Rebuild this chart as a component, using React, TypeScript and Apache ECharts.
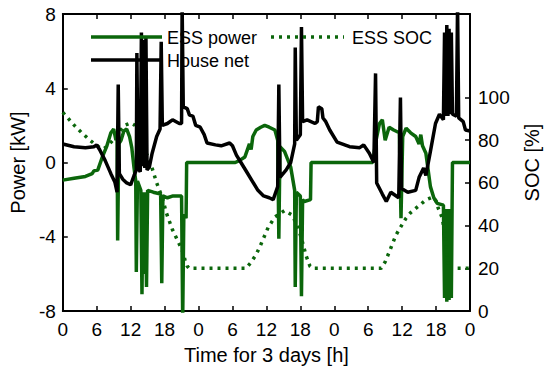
import React, { useEffect, useRef } from 'react';
import * as echarts from 'echarts';

// Time axis (hours over 3 days) and tick labels
const hourTicks = [0, 6, 12, 18, 24, 30, 36, 42, 48, 54, 60, 66, 72];
const powerTicks = [-8, -4, 0, 4, 8];
const socTicks = [0, 20, 40, 60, 80, 100];
const legendNames = ['ESS power', 'House net', 'ESS SOC'];

// ESS power [kW] : [hour, kW]
const essPower: [number, number][] = [
  [0, -0.95], [2, -0.85], [4, -0.75], [5.2, -0.6], [5.5, -0.45], [6.2, -0.4], [7.0, 0.3], [7.8, 0.9],
  [8.5, 1.6], [9.0, 1.8], [9.4, 1.2], [9.6, 1.5], [9.7, -4.2], [9.9, 1.0], [10.3, 1.2], [10.8, 1.7],
  [11.3, 1.8], [11.8, 1.4], [12.2, 0.8], [12.6, -0.3], [12.9, -1.0], [13.0, -5.9], [13.2, -1.0],
  [13.8, -1.5], [14.0, -7.1], [14.2, -1.6], [14.4, -6.0], [14.6, -1.6], [14.8, -6.7], [15.0, -1.5],
  [16.0, -1.6], [17.3, -1.7], [17.5, -6.5], [17.7, -1.8], [18.5, -1.9], [19.5, -1.8], [21.0, -1.8],
  [21.2, -8.5], [21.4, -2.8], [21.8, -3.0], [21.9, 0], [30.5, 0], [31.2, 0.1], [32.2, 0.3], [33.0, 1.0],
  [33.3, 0.7], [33.6, 1.4], [34.2, 1.75], [35.0, 1.9], [35.7, 2.0], [36.5, 1.9], [37.5, 1.75],
  [38.0, 1.2], [38.2, -4.1], [38.4, 0.85], [39.2, 0.6], [40.3, -0.25], [41.0, -1.5], [41.1, -6.7],
  [41.3, -1.6], [42.0, -1.8], [42.2, -7.2], [42.4, -2.0], [42.7, -2.1], [43.8, -2.0], [43.9, 0],
  [54.8, 0], [55.3, 1.05], [56.0, 2.1], [56.5, 2.3], [57.0, 1.2], [57.7, 1.9], [58.5, 1.75],
  [59.5, 1.6], [59.8, -3.0], [60.1, 1.4], [60.7, 1.85], [61.5, 1.6], [62.4, 1.4], [63.0, 1.0],
  [63.3, 1.5], [63.6, 0.9], [64.2, 0.5], [65.0, -1.3], [65.6, -1.9], [66.2, -2.2], [67.3, -2.3],
  [67.5, -7.3], [67.7, -2.5], [67.9, -7.5], [68.1, -2.5], [68.3, -7.4], [68.5, -2.5], [68.7, -7.3],
  [68.9, 0], [72, 0],
];

// House net [kW] : [hour, kW]
const houseNet: [number, number][] = [
  [0, 1.0], [2, 0.85], [4, 0.8], [5.5, 0.85], [6, 0.95], [6.5, 0.7], [7.5, 0.1], [8.5, -0.6],
  [9.2, -1.05], [9.6, -1.6], [9.8, 4.2], [10.0, -0.6], [10.6, -0.9], [11.3, -1.1], [12.0, -1.2],
  [12.6, -0.7], [13.0, -0.4], [13.1, 5.9], [13.3, -0.3], [13.7, -0.5], [13.9, 7.0], [14.1, -0.2],
  [14.3, 6.6], [14.5, -0.3], [14.7, 6.8], [14.9, -0.4], [15.3, -0.25], [15.8, 0.5], [16.6, 1.4],
  [17.2, 1.8], [17.4, 6.5], [17.6, 2.0], [18.5, 2.1], [19.4, 2.3], [20.6, 2.1], [21.0, 2.1],
  [21.1, 8.5], [21.3, 3.0], [22.0, 2.9], [22.4, 2.55], [23.0, 2.5], [23.5, 2.0], [24.3, 1.9],
  [25.0, 1.5], [25.5, 1.05], [27.0, 0.95], [28.0, 0.9], [29.5, 1.05], [30.0, 0.9], [30.7, 0.4],
  [31.5, 0.0], [32.5, -0.5], [33.5, -1.0], [34.5, -1.5], [35.5, -1.8], [36.5, -1.9], [37.2, -2.0],
  [38.0, -1.3], [38.2, 4.2], [38.4, -0.8], [39.5, -0.4], [40.3, 0.0], [41.0, 1.0], [41.1, 6.2],
  [41.3, 1.2], [42.0, 1.5], [42.2, 7.3], [42.4, 2.2], [43.2, 2.3], [44.6, 2.1], [45.0, 2.2],
  [45.2, 3.0], [45.8, 2.9], [46.0, 2.4], [46.5, 2.2], [47.2, 1.75], [48.5, 1.1], [50.7, 0.85],
  [52.5, 0.8], [53.2, 0.95], [54.2, 0.5], [55.0, 0.0], [55.3, 4.8], [55.5, -1.1], [56.5, -1.7],
  [57.2, -2.1], [58.0, -1.6], [59.4, -1.9], [59.7, 3.5], [59.9, -1.4], [61.0, -1.6], [62.4, -1.5],
  [63.0, -0.8], [63.8, -0.3], [64.2, -0.7], [65.0, 0.6], [65.9, 2.1], [66.6, 2.6], [67.3, 2.3],
  [67.5, 7.0], [67.7, 2.5], [67.9, 7.4], [68.1, 2.5], [68.3, 7.2], [68.5, 2.6], [68.7, 7.0],
  [68.9, 2.6], [69.6, 2.5], [69.8, 8.5], [70.0, 2.4], [70.8, 2.2], [71.2, 1.75], [72, 1.7],
];

// ESS SOC [%] : [hour, %]
const essSoc: [number, number][] = [
  [0, 93], [1, 90], [2, 87], [3.5, 83], [5, 79.5], [5.7, 78], [6.5, 76.5], [7.3, 76], [8.2, 78],
  [9.2, 81], [10.2, 84.5], [11, 87], [12, 88], [12.7, 87], [13.5, 82], [14.5, 75], [15.3, 71],
  [16.6, 60], [17.6, 53], [18.3, 46], [19.4, 38], [20.3, 33], [21.1, 28.5], [21.6, 24], [22, 21],
  [22.3, 20], [32.4, 20], [33.2, 22.5], [34.2, 26.5], [35.0, 31], [36.3, 39], [37.5, 44],
  [39.2, 47], [40.5, 45], [41.5, 40], [42.3, 33], [43.0, 26], [43.7, 21], [44.1, 20], [56.3, 20],
  [57.0, 23], [57.7, 27.5], [58.9, 35.5], [60, 40.5], [60.7, 43.5], [61.5, 46], [62.4, 48],
  [63.3, 50], [64.2, 52], [65.4, 53.3], [66, 51.5], [66.4, 48], [67.1, 43.5], [67.6, 35],
  [67.9, 26], [68.2, 20], [72, 20],
];

const GREEN = '#0b660b';
const FONT = "'Liberation Sans', Arial, Helvetica, sans-serif";
const DOT: number[] = [3, 5];

export default function App() {
  const ref = useRef<HTMLDivElement>(null);
  useEffect(() => {
    if (!ref.current) return;
    const chart = echarts.init(ref.current, undefined, { renderer: 'svg' });
    const axisLine = { show: true, onZero: false, lineStyle: { color: '#000', width: 2 } };
    const tickStyle = { color: '#000', width: 1.5 };
    const legendText = (x: number, y: number, t: string) => ({
      type: 'text',
      x,
      y,
      style: { text: t, fontSize: 18, fontFamily: FONT, fill: '#000', verticalAlign: 'middle', align: 'left' },
      z: 100,
    });
    const legendLine = (x1: number, x2: number, y: number, color: string, dash?: number[]) => ({
      type: 'line',
      shape: { x1, y1: y, x2, y2: y },
      style: { stroke: color, lineWidth: 3.5, lineDash: dash || null },
      z: 100,
    });
    chart.setOption({
      animation: false,
      backgroundColor: '#fff',
      textStyle: { fontFamily: FONT },
      grid: { left: 57, right: 80, top: 14, bottom: 64, containLabel: false },
      graphic: [
        legendLine(91, 162, 37, GREEN),
        legendText(167, 38, legendNames[0]),
        legendLine(91, 162, 60, '#000'),
        legendText(167, 61, legendNames[1]),
        legendLine(271, 344, 37, GREEN, DOT),
        legendText(352, 38, legendNames[2]),
      ],
      xAxis: [
        {
          type: 'value',
          min: 0,
          max: 72,
          interval: 6,
          position: 'bottom',
          name: 'Time for 3 days [h]',
          nameLocation: 'middle',
          nameGap: 34,
          nameTextStyle: { fontSize: 20, color: '#000', fontFamily: FONT },
          axisLine,
          axisTick: { inside: true, length: 5, lineStyle: tickStyle, customValues: hourTicks },
          axisLabel: {
            color: '#000',
            fontSize: 19,
            margin: 9,
            fontFamily: FONT,
            customValues: hourTicks,
            formatter: (v: number) => String(v % 24),
          },
          splitLine: { show: false },
        },
        {
          type: 'value',
          min: 0,
          max: 72,
          interval: 6,
          position: 'top',
          axisLine,
          axisTick: { inside: true, length: 5, lineStyle: tickStyle },
          axisLabel: { show: false },
          splitLine: { show: false },
        },
      ],
      yAxis: [
        {
          type: 'value',
          min: -8,
          max: 8,
          interval: 4,
          position: 'left',
          name: 'Power [kW]',
          nameLocation: 'middle',
          nameRotate: 90,
          nameGap: 33,
          nameTextStyle: { fontSize: 20, color: '#000', fontFamily: FONT },
          axisLine,
          axisTick: { inside: true, length: 5, lineStyle: tickStyle, customValues: powerTicks },
          axisLabel: { color: '#000', fontSize: 19, margin: 7, fontFamily: FONT, customValues: powerTicks },
          splitLine: { show: false },
        },
        {
          type: 'value',
          min: 0,
          max: 139,
          position: 'right',
          name: 'SOC [%]',
          nameLocation: 'middle',
          nameRotate: 90,
          nameGap: 52,
          nameTextStyle: { fontSize: 20, color: '#000', fontFamily: FONT },
          axisLine,
          axisTick: { inside: true, length: 5, lineStyle: tickStyle, customValues: socTicks },
          axisLabel: { color: '#000', fontSize: 19, margin: 8, fontFamily: FONT, customValues: socTicks },
          splitLine: { show: false },
        },
      ],
      series: [
        {
          name: legendNames[0],
          type: 'line',
          xAxisIndex: 0,
          yAxisIndex: 0,
          data: essPower,
          symbol: 'none',
          color: GREEN,
          lineStyle: { color: GREEN, width: 3.5 },
        },
        {
          name: legendNames[2],
          type: 'line',
          xAxisIndex: 0,
          yAxisIndex: 1,
          data: essSoc,
          symbol: 'none',
          color: GREEN,
          lineStyle: { color: GREEN, width: 3.5, type: DOT },
        },
        {
          name: legendNames[1],
          type: 'line',
          xAxisIndex: 0,
          yAxisIndex: 0,
          data: houseNet,
          symbol: 'none',
          color: '#000',
          lineStyle: { color: '#000', width: 3.5 },
        },
      ],
    });
    return () => chart.dispose();
  }, []);
  return (
    <div
      ref={ref}
      style={{ position: 'absolute', left: 0, top: 0, width: 550, height: 375, background: '#fff' }}
    />
  );
}
